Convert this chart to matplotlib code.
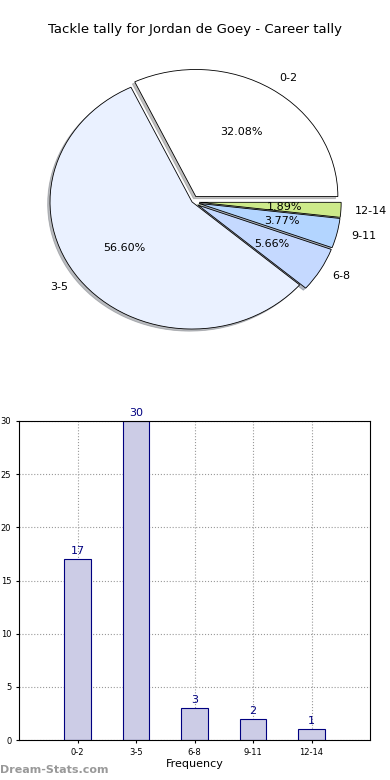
import numpy as np
import matplotlib
matplotlib.use('Agg')
import matplotlib.pyplot as plt

# tackle tally data
labels = ['0-2', '3-5', '6-8', '9-11', '12-14']
counts = [17, 30, 3, 2, 1]
pie_colors = ['#FFFFFF', '#EAF1FF', '#C5D9FF', '#B3D5FF', '#CDEA8A']
explode = [0.05, 0, 0.05, 0.05, 0.05]

fig = plt.figure(figsize=(3.9, 7.8), dpi=100)

fig.text(0.5, 1 - 30 / 780., 'Tackle tally for Jordan de Goey - Career tally',
         ha='center', va='center', fontsize=9.5)

# pie (stretched, no equal aspect like old matplotlib)
ax1 = fig.add_axes([0.0554, 0.5456, 0.874, 0.391])
wedges, texts, autotexts = ax1.pie(counts, labels=labels, colors=pie_colors,
                                   explode=explode, autopct='%1.2f%%',
                                   shadow={'ox': -0.012, 'oy': -0.012, 'shade': 0.5},
                                   startangle=0,
                                   wedgeprops=dict(edgecolor='black', linewidth=0.6),
                                   textprops=dict(fontsize=8))
ax1.set_aspect('auto')
ax1.set_xlim(-1.2, 1.2)
ax1.set_ylim(-1.2, 1.2)
for w in wedges:
    w.set_clip_on(False)

# bar chart
ax2 = fig.add_axes([19 / 390., 40 / 780., 351 / 390., 319 / 780.])
x = np.arange(len(labels))
bars = ax2.bar(x, counts, width=0.45, color='#CCCCE6', edgecolor='#000080', linewidth=0.8)
for xi, c in zip(x, counts):
    ax2.text(xi, c + 0.3, str(c), ha='center', va='bottom', color='#000080', fontsize=8)
ax2.set_xlim(-1, 5)
ax2.set_ylim(0, 30)
ax2.set_xticks(x)
ax2.set_xticklabels(labels)
ax2.set_yticks(np.arange(0, 31, 5))
ax2.tick_params(labelsize=6, length=2)
ax2.grid(True, linestyle=':', color='#999999', linewidth=0.8)
ax2.set_axisbelow(True)
ax2.set_xlabel('Frequency', fontsize=8, labelpad=2)
ax2.set_ylabel('Stat Instances', fontsize=7, labelpad=2)

fig.text(0.0, 1 - 770 / 780., 'Dream-Stats.com', ha='left', va='center',
         fontsize=8, color='#999999', fontweight='bold')

fig.savefig('out.png', dpi=100)
